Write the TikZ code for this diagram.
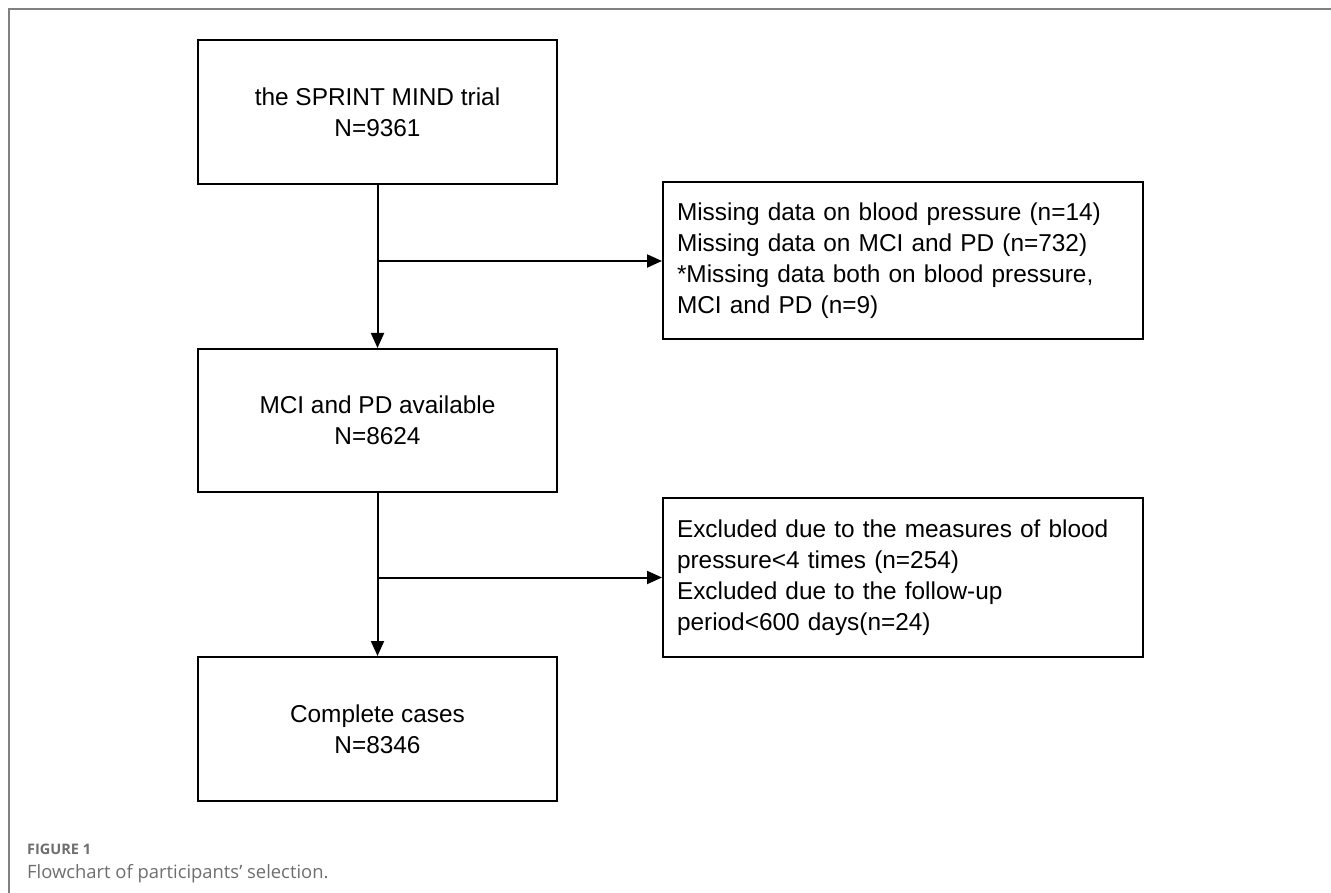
\documentclass[tikz,border=0pt]{standalone}
\usepackage{fontspec}
\setmainfont{Liberation Sans}
\newfontfamily\capfont{Open Sans}
\usetikzlibrary{arrows.meta}
\definecolor{framegray}{RGB}{128,128,128}
\definecolor{capgray}{RGB}{110,110,110}
\begin{document}
\begin{tikzpicture}[x=1pt,y=-1pt,
  mainbox/.style={draw=black,line width=2pt,minimum width=359pt,minimum height=144pt,align=center,inner sep=0pt,font=\fontsize{24.4}{31}\selectfont},
  sidebox/.style={draw=black,line width=2pt,minimum width=480pt,minimum height=157pt,align=left,text width=452pt,inner sep=14pt,font=\fontsize{24.4}{31}\selectfont},
  flow/.style={line width=2pt,-{Triangle[length=15pt,width=13pt]}}]
\useasboundingbox (0,0) rectangle (1331,893);
\draw[framegray,line width=1.5pt] (9,893) -- (9,9) -- (1331,9);
\node[mainbox] (b1) at (377.5,112) {the SPRINT MIND trial\\N=9361};
\node[mainbox,minimum height=143pt] (b2) at (377.5,420.5) {MCI and PD available\\N=8624};
\node[mainbox] (b3) at (377.5,729) {Complete cases\\N=8346};
\node[sidebox] (s1) at (903,261) {Missing data on blood pressure (n=14)\\Missing data on MCI and PD (n=732)\\{*}Missing data both on blood pressure,\\MCI and PD (n=9)};
\node[sidebox,minimum height=159pt] (s2) at (903,577.5) {Excluded due to the measures of blood\\pressure<4 times (n=254)\\Excluded due to the follow-up\\period<600 days(n=24)};
\draw[flow] (b1.south) -- (b2.north);
\draw[flow] (b2.south) -- (b3.north);
\draw[flow] (b1.south |- s1.west) -- (s1.west);
\draw[flow] (b2.south |- s2.west) -- (s2.west);
\node[anchor=base west,inner sep=0pt,text=capgray,font=\capfont\bfseries\fontsize{14.5}{16}\selectfont] (cap1) at (27,854) {FIGURE 1};
\node[anchor=base west,inner sep=0pt,text=capgray,font=\capfont\fontsize{18.4}{22}\selectfont] (cap2) at (27,878) {Flowchart of participants’ selection.};
\end{tikzpicture}
\end{document}
